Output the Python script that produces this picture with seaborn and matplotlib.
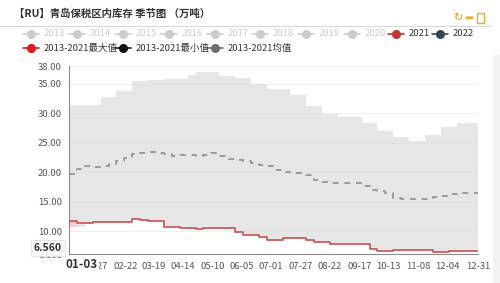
import matplotlib
matplotlib.use("Agg")
import matplotlib.pyplot as plt
import matplotlib.dates as mdates
from matplotlib.lines import Line2D
from matplotlib.patches import Rectangle
import numpy as np
import pandas as pd
import seaborn as sns

# ---------------- data ----------------
week_dates = list(pd.date_range("2021-01-03", periods=52, freq="7D")) + [pd.Timestamp("2021-12-31")]

max_2013_2021 = [31.4, 31.4, 31.4, 31.4, 32.8, 32.8, 33.8, 33.8, 35.4, 35.4,
                 35.7, 35.7, 35.85, 35.85, 35.85, 36.5, 37.0, 37.0, 37.0, 36.3,
                 36.3, 35.9, 35.9, 34.9, 34.9, 34.1, 34.1, 34.1, 33.0, 33.0,
                 31.2, 31.2, 29.9, 29.9, 29.4, 29.4, 29.4, 28.3, 28.3, 27.0,
                 27.0, 25.9, 25.9, 25.2, 25.2, 26.3, 26.3, 27.6, 27.6, 28.3,
                 28.3, 28.3, 29.0]

mean_2013_2021 = [19.7, 20.5, 21.0, 20.9, 21.1, 21.3, 21.8, 22.4, 23.1, 23.2,
                  23.35, 23.3, 23.1, 22.8, 22.9, 22.9, 22.8, 22.9, 23.2, 22.8,
                  22.3, 22.0, 21.9, 21.5, 21.2, 21.0, 20.4, 20.0, 19.9, 19.85,
                  19.5, 18.7, 18.3, 18.1, 18.1, 18.1, 18.2, 17.6, 17.0, 16.8,
                  16.4, 15.6, 15.4, 15.4, 15.4, 15.5, 15.7, 16.0, 16.3, 16.4,
                  16.4, 16.4, 16.4]

y2021 = [11.7, 11.35, 11.35, 11.5, 11.5, 11.5, 11.5, 11.5, 12.0, 11.95,
         11.75, 11.75, 10.7, 10.7, 10.5, 10.5, 10.3, 10.45, 10.45, 10.45,
         10.45, 9.8, 9.4, 9.4, 8.9, 8.45, 8.5, 8.85, 8.75, 8.75,
         8.45, 8.2, 8.1, 7.75, 7.75, 7.75, 7.75, 7.75, 6.95, 6.65,
         6.65, 6.75, 6.75, 6.75, 6.75, 6.75, 6.4, 6.4, 6.65, 6.6,
         6.6, 6.55, 6.55]

min_2013_2021 = [10.6, 10.6] + y2021[2:]

legend_years = ["2013", "2014", "2015", "2016", "2017", "2018", "2019", "2020", "2021", "2022"]
tick_labels = ["01-03", "01-27", "02-22", "03-19", "04-14", "05-10", "06-05", "07-01",
               "07-27", "08-22", "09-17", "10-13", "11-08", "12-04", "12-31"]
y_ticks = [6.1, 10, 15, 20, 25, 30, 35, 38]

df = pd.DataFrame({"date": week_dates, "max": max_2013_2021, "min": min_2013_2021,
                   "mean": mean_2013_2021, "y2021": y2021})

# ---------------- style ----------------
sns.set_theme(style="white")
plt.rcParams["font.family"] = ["Noto Sans CJK SC", "DejaVu Sans"]

W, H = 500, 283
fig = plt.figure(figsize=(W / 100, H / 100), dpi=100)
fig.patch.set_facecolor("white")

def fx(px):
    return px / W

def fy(py):
    return 1 - py / H

ax = fig.add_axes([fx(69), fy(254), fx(478) - fx(69), fy(66) - fy(254)])
ax.set_facecolor("white")

# grid
for v in [10, 15, 20, 25, 30, 35, 38]:
    ax.axhline(v, color="#eeeeee", lw=0.8, zorder=0)

# band
ax.fill_between(df["date"], df["min"], df["max"], step="post",
                color="#d6d6d6", alpha=0.6, lw=0, zorder=1)
ax.fill_between(df["date"], df["min"], df["y2021"], step="post",
                where=np.array(df["y2021"]) > np.array(df["min"]),
                color="#f0cccc", alpha=0.8, lw=0, zorder=1.5)

sns.lineplot(data=df, x="date", y="mean", ax=ax, color="#9a9a9a", lw=1.4,
             drawstyle="steps-post", dashes=False, linestyle=(0, (3, 3)), zorder=3)
sns.lineplot(data=df, x="date", y="y2021", ax=ax, color="#c9504f", lw=1.2,
             drawstyle="steps-post", zorder=4)

ax.set_xlim(pd.Timestamp("2021-01-03"), pd.Timestamp("2021-12-31"))
ax.set_ylim(6.1, 38)
ax.set_xlabel("")
ax.set_ylabel("")

tick_dates = [pd.Timestamp("2021-" + t) for t in tick_labels]
ax.set_xticks(tick_dates)
ax.set_xticklabels([""] + tick_labels[1:])
ax.set_yticks(y_ticks)
ax.set_yticklabels(["6.100"] + ["%.2f" % v for v in y_ticks[1:]])

for s in ["top", "right"]:
    ax.spines[s].set_visible(False)
for s in ["left", "bottom"]:
    ax.spines[s].set_color("#8a8a8a")
    ax.spines[s].set_linewidth(0.8)
ax.tick_params(axis="both", length=3, width=0.8, color="#8a8a8a",
               labelsize=6.8, labelcolor="#555555", pad=2, direction="out")
ax.tick_params(axis="x", pad=3)

# bold first x label and axis pointer label
fig.text(fx(66), fy(264), "01-03", fontsize=8.5, fontweight="bold", color="#333333",
         ha="left", va="center",
         bbox=dict(boxstyle="square,pad=0.1", fc="white", ec="none"))
fig.text(fx(62), fy(248), "6.560", fontsize=7.5, fontweight="bold", color="#333333",
         ha="right", va="center",
         bbox=dict(boxstyle="square,pad=0.25", fc="#f7f7f7", ec="#e2e2e2", lw=0.6))

# ---------------- header ----------------
fig.text(fx(14), fy(14), "【RU】青岛保税区内库存 季节图 （万吨）", fontsize=7.5,
         fontweight="bold", color="#333333", ha="left", va="center")
fig.add_artist(Line2D([fx(0), fx(490)], [fy(26), fy(26)], color="#d8d8d8", lw=0.8,
                      transform=fig.transFigure))
orange = "#f5a623"
fig.text(fx(458), fy(18), "↻", fontsize=8, color=orange, ha="center", va="center",
         family=["DejaVu Sans"], fontweight="bold")
fig.text(fx(469), fy(18), "➦", fontsize=8, color=orange, ha="center", va="center",
         family=["DejaVu Sans"])
fig.add_artist(Rectangle((fx(477), fy(23)), fx(7), fy(13) - fy(23), fc="none",
                         ec=orange, lw=1.0, transform=fig.transFigure))

# scrollbar strip
fig.add_artist(Rectangle((fx(493), 0), fx(7), fy(55), fc="#f2f2f2", ec="none",
                         transform=fig.transFigure, zorder=-1))

# ---------------- legend ----------------
def legend_item(tx, ty, label, color, tcolor):
    fig.add_artist(Line2D([fx(tx - 21), fx(tx - 5)], [fy(ty), fy(ty)], color=color, lw=1.2,
                          transform=fig.transFigure))
    fig.add_artist(Line2D([fx(tx - 13)], [fy(ty)], color=color, marker="o", ms=5.5,
                          transform=fig.transFigure))
    fig.text(fx(tx), fy(ty), label, fontsize=6.8, color=tcolor, ha="left", va="center")

row1_x = [44, 90, 136, 182, 228, 273, 319, 365, 409, 453]
row1_color = ["#cccccc"] * 8 + ["#c23531", "#2f4554"]
row1_tcolor = ["#cccccc"] * 8 + ["#333333", "#333333"]
for lab, x0, c, tc in zip(legend_years, row1_x, row1_color, row1_tcolor):
    legend_item(x0, 34, lab, c, tc)

row2 = [("2013-2021最大值", 44, "#e0191a"), ("2013-2021最小值", 136, "#111111"),
        ("2013-2021均值", 228, "#6e6e6e")]
for lab, x0, c in row2:
    legend_item(x0, 48, lab, c, "#333333")

fig.savefig("out.png", dpi=100)
